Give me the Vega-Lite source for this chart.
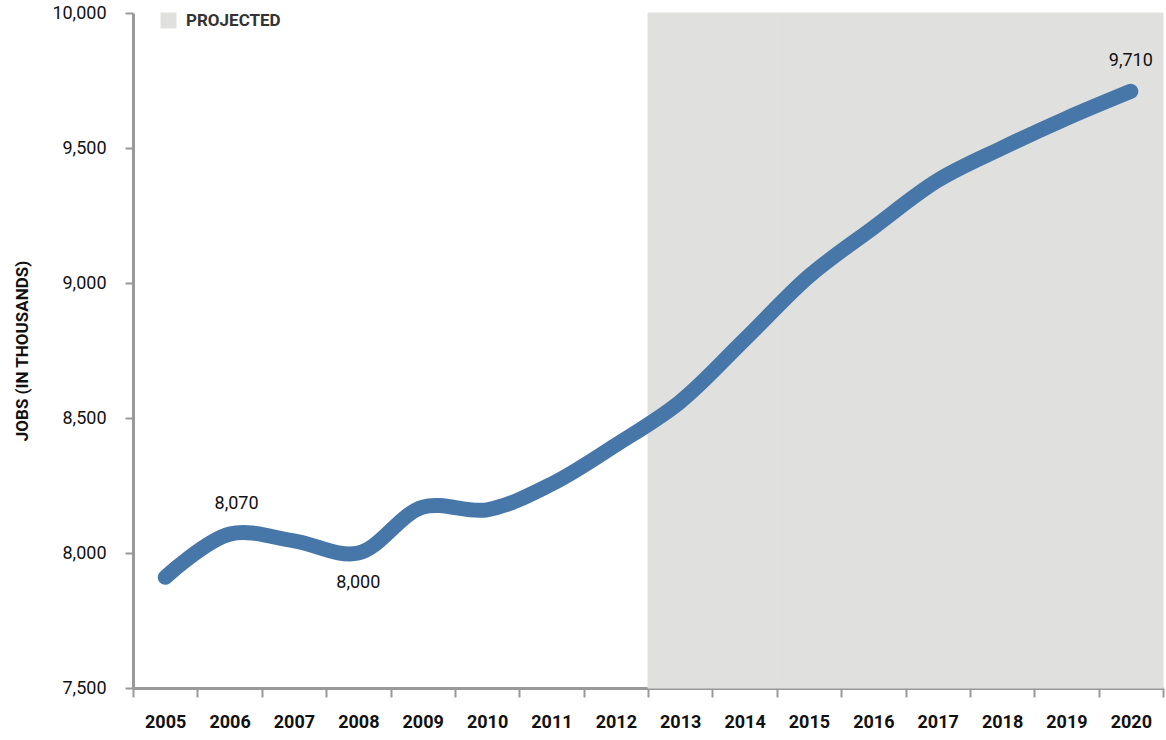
{
  "$schema": "https://vega.github.io/schema/vega-lite/v6.json",
  "width": 1030,
  "height": 675,
  "autosize": "none",
  "padding": {"left": 133, "top": 13, "right": 3, "bottom": 52},
  "background": "white",
  "config": {
    "view": {"stroke": null},
    "font": "Roboto"
  },
  "data": {
    "values": [
      {"year": "2005", "jobs": 7910, "projected": false},
      {"year": "2006", "jobs": 8070, "projected": false},
      {"year": "2007", "jobs": 8045, "projected": false},
      {"year": "2008", "jobs": 8000, "projected": false},
      {"year": "2009", "jobs": 8170, "projected": false},
      {"year": "2010", "jobs": 8160, "projected": false},
      {"year": "2011", "jobs": 8255, "projected": false},
      {"year": "2012", "jobs": 8400, "projected": false},
      {"year": "2013", "jobs": 8560, "projected": true},
      {"year": "2014", "jobs": 8790, "projected": true},
      {"year": "2015", "jobs": 9025, "projected": true},
      {"year": "2016", "jobs": 9205, "projected": true},
      {"year": "2017", "jobs": 9380, "projected": true},
      {"year": "2018", "jobs": 9500, "projected": true},
      {"year": "2019", "jobs": 9610, "projected": true},
      {"year": "2020", "jobs": 9710, "projected": true}
    ]
  },
  "encoding": {
    "x": {
      "field": "year",
      "type": "ordinal",
      "scale": {"paddingInner": 0, "paddingOuter": 0},
      "axis": {
        "title": null,
        "labelAngle": 0,
        "tickBand": "extent",
        "domainColor": "#999999",
        "domainWidth": 3,
        "tickColor": "#999999",
        "tickWidth": 2,
        "tickSize": 9,
        "labelFontSize": 18,
        "labelFontWeight": "bold",
        "labelColor": "#111111",
        "labelPadding": 16
      }
    },
    "y": {
      "field": "jobs",
      "type": "quantitative",
      "scale": {"domain": [7500, 10000], "nice": false, "zero": false},
      "axis": {
        "title": "JOBS (IN THOUSANDS)",
        "titleFontSize": 17,
        "titleFontWeight": "bold",
        "titleColor": "#111111",
        "titlePadding": 20,
        "values": [7500, 8000, 8500, 9000, 9500, 10000],
        "format": ",.0f",
        "grid": false,
        "domainColor": "#999999",
        "domainWidth": 3,
        "tickColor": "#999999",
        "tickWidth": 2,
        "tickSize": 8,
        "labelFontSize": 18,
        "labelColor": "#111111",
        "labelPadding": 19
      }
    }
  },
  "layer": [
    {
      "transform": [{"filter": "datum.projected"}],
      "mark": {"type": "bar", "fill": "#e0e0df", "stroke": "#e0e0df", "strokeWidth": 1},
      "encoding": {
        "y": {"datum": 10000, "type": "quantitative"},
        "y2": {"datum": 7500},
        "fill": {
          "datum": "PROJECTED",
          "type": "nominal",
          "scale": {"range": ["#e0e0df"]},
          "legend": {
            "title": null,
            "orient": "none",
            "legendX": 27,
            "legendY": -1,
            "symbolType": "square",
            "symbolSize": 256,
            "symbolStrokeWidth": 0,
            "labelFontSize": 17,
            "labelFontWeight": "bold",
            "labelColor": "#333333",
            "labelOffset": 9
          }
        }
      }
    },
    {
      "mark": {
        "type": "line",
        "interpolate": "catmull-rom",
        "stroke": "#4677a8",
        "strokeWidth": 15,
        "strokeCap": "round",
        "strokeJoin": "round"
      }
    },
    {
      "transform": [{"filter": "datum.year == '2006'"}],
      "mark": {"type": "text", "fontSize": 18, "color": "#111111", "dy": -30, "dx": 7},
      "encoding": {
        "text": {"field": "jobs", "type": "quantitative", "format": ","}
      }
    },
    {
      "transform": [{"filter": "datum.year == '2020'"}],
      "mark": {"type": "text", "fontSize": 18, "color": "#111111", "dy": -30},
      "encoding": {
        "text": {"field": "jobs", "type": "quantitative", "format": ","}
      }
    },
    {
      "transform": [{"filter": "datum.year == '2008'"}],
      "mark": {"type": "text", "fontSize": 18, "color": "#111111", "dy": 30},
      "encoding": {
        "text": {"field": "jobs", "type": "quantitative", "format": ","}
      }
    }
  ]
}
